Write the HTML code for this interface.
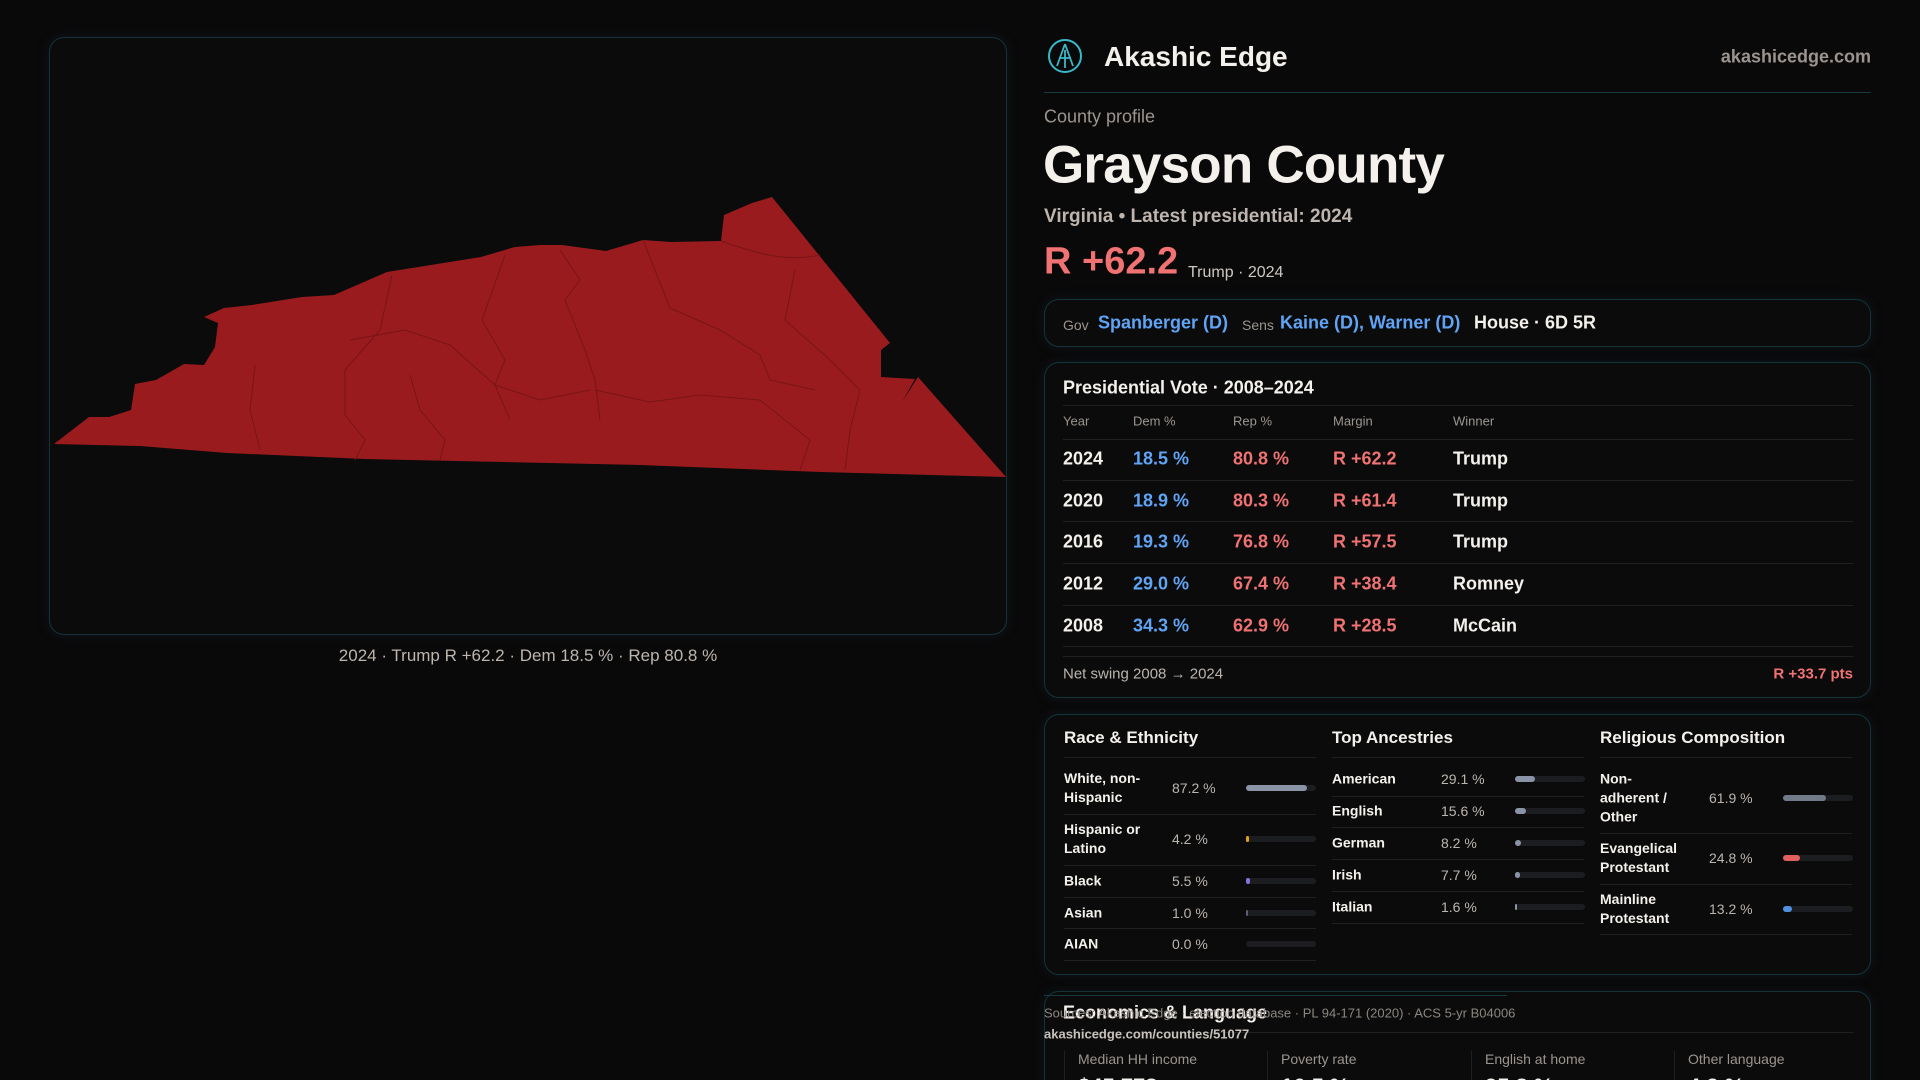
<!DOCTYPE html>
<html><head><meta charset="utf-8">
<style>
*{margin:0;padding:0;box-sizing:border-box}
html{width:1920px;height:1080px;overflow:hidden}
body{width:1920px;height:1080px;background:#0a090a;overflow:hidden;font-family:"Liberation Sans",sans-serif;color:#f4f1ec;position:relative}
.abs{position:absolute;white-space:nowrap}
.card{position:absolute;border:1px solid #14343a;border-radius:15px;background:#0b0b0c;box-shadow:0 0 12px rgba(20,60,70,0.25)}
.sep{position:absolute;height:1px;background:#1e2123}
.gray{color:#9c958f}
.blue{color:#5fa4f5}
.red{color:#f07272}
.vc{transform:translateY(-50%)}
.bar-bg{position:absolute;height:6px;border-radius:3px;background:#1c1d20}
.bar-fill{position:absolute;left:0;top:0;height:6px;border-radius:3px}
#clip{position:absolute;left:0;top:0;width:1920px;height:1080px;overflow:hidden}
</style></head>
<body>
<div id="clip">
<!-- Map panel -->
<div class="card" style="left:49px;top:37px;width:958px;height:598px;background:#0b0b0c"></div>
<svg class="abs" style="left:0;top:0" width="1020" height="640">
<polygon fill="#9a1b1e" points="54,444 89,417 109,417 131,410 135,384 156,380 184,364 204,365 215,347 218,323 204,317 224,308 252,305 302,297 334,295 387,272 481,257 515,247 540,245 562,245 606,251 643,240 671,242 721,241 724,215 752,203 772,197 890,343 881,350 881,377 915,379 902,402 918,377 1006,477 821,472 640,465 365,459 227,453 140,446"/>
<ellipse cx="893" cy="362" rx="8" ry="13" fill="#0b0b0c"/>
<g fill="none" stroke="#7a1416" stroke-width="1">
<path d="M721,241 C760,255 790,262 820,255"/>
<path d="M643,240 L670,308 L720,330 L760,355 L770,380 L815,390"/>
<path d="M505,255 L482,320 L505,360 L495,385 L510,420"/>
<path d="M560,250 L580,280 L565,300 L585,350 L595,380 L600,420"/>
<path d="M392,275 L380,330 L345,370 L345,415 L365,440 L355,460"/>
<path d="M255,365 L250,410 L260,450"/>
<path d="M350,340 L405,330 L450,345 L495,385 L540,400 L590,390"/>
<path d="M595,390 L650,402 L700,395 L760,400 L810,440 L800,470"/>
<path d="M410,375 L420,410 L445,440 L440,460"/>
<path d="M795,270 L785,320 L830,360 L860,390 L850,430 L845,470"/>
</g>
</svg>
<div class="abs gray" style="left:528px;top:656px;transform:translate(-50%,-50%);font-size:17px;color:#bcb5ae">2024 · Trump R +62.2 · Dem 18.5 % · Rep 80.8 %</div>

<!-- Header -->
<svg class="abs" style="left:1047px;top:38px" width="36" height="36" viewBox="0 0 36 36">
<circle cx="18" cy="18" r="16" fill="none" stroke="#3ab8c8" stroke-width="2"/>
<path d="M18,6 L10,28 M18,6 L26,28 M12,20 L24,20 M18,12 L18,30" stroke="#3ab8c8" stroke-width="1.8" fill="none"/>
</svg>
<div class="abs vc" style="left:1104px;top:57px;font-size:28px;font-weight:bold;color:#f4f1ec">Akashic Edge</div>
<div class="abs vc gray" style="right:49px;top:57px;font-size:18px;font-weight:bold">akashicedge.com</div>
<div class="sep" style="left:1044px;top:92px;width:827px;background:#163a40"></div>
<div class="abs vc gray" style="left:1044px;top:117px;font-size:18px">County profile</div>
<div class="abs vc" style="left:1043px;top:165px;font-size:53px;font-weight:bold;letter-spacing:-0.8px">Grayson County</div>
<div class="abs vc" style="left:1044px;top:217px;font-size:19px;font-weight:bold;color:#bdb5ae">Virginia • Latest presidential: 2024</div>
<div class="abs vc red" style="left:1044px;top:262px;font-size:38px;font-weight:bold">R +62.2</div>
<div class="abs gray" style="left:1188px;top:264px;font-size:16px;color:#cfc8c2">Trump · 2024</div>

<!-- Officials -->
<div class="card" style="left:1044px;top:299px;width:827px;height:48px"></div>
<div class="abs vc gray" style="left:1063px;top:325px;font-size:14px">Gov</div>
<div class="abs vc blue" style="left:1098px;top:323px;font-size:18px;font-weight:bold">Spanberger (D)</div>
<div class="abs vc gray" style="left:1242px;top:325px;font-size:14px">Sens</div>
<div class="abs vc blue" style="left:1280px;top:323px;font-size:18px;font-weight:bold">Kaine (D), Warner (D)</div>
<div class="abs vc" style="left:1474px;top:323px;font-size:18px;font-weight:bold">House · 6D 5R</div>

<!-- Presidential table -->
<div class="card" style="left:1044px;top:362px;width:827px;height:336px"></div>
<div class="abs vc" style="left:1063px;top:388px;font-size:18px;font-weight:bold">Presidential Vote · 2008–2024</div>
<div class="sep" style="left:1063px;top:405px;width:790px"></div>
<div id="ptable"></div>
<div class="sep" style="left:1063px;top:656px;width:790px"></div>
<div class="abs vc gray" style="left:1063px;top:674px;font-size:15px;color:#bcb5ae">Net swing 2008 → 2024</div>
<div class="abs vc red" style="right:67px;top:674px;font-size:15px;font-weight:bold">R +33.7 pts</div>

<!-- Demographics -->
<div class="card" style="left:1044px;top:714px;width:827px;height:261px"></div>
<div id="demo"></div>

<!-- Economics -->
<div class="card" style="left:1044px;top:991px;width:827px;height:120px"></div>
<div class="abs vc" style="left:1063px;top:1013px;font-size:18px;font-weight:bold">Economics &amp; Language</div>
<div class="sep" style="left:1063px;top:1032px;width:790px"></div>
<div class="sep" style="left:1044px;top:995px;width:463px;background:#163a40"></div>
<div class="abs vc gray" style="left:1044px;top:1013px;font-size:13px;color:#8c8680">Sources: Akashic Edge · election database · PL 94-171 (2020) · ACS 5-yr B04006</div>
<div class="abs vc" style="left:1044px;top:1034px;font-size:13px;font-weight:bold;color:#c8c2bc">akashicedge.com/counties/51077</div>
<div id="econ"></div>
</div>

<script>
// Presidential vote data
const years = [2024, 2020, 2016, 2012, 2008];
const demPct = [18.5, 18.9, 19.3, 29.0, 34.3];
const repPct = [80.8, 80.3, 76.8, 67.4, 62.9];
const margins = ["R +62.2", "R +61.4", "R +57.5", "R +38.4", "R +28.5"];
const winners = ["Trump", "Trump", "Trump", "Romney", "McCain"];
const headers = ["Year", "Dem %", "Rep %", "Margin", "Winner"];

// Demographics data
const raceLabels = ["White, non-<br>Hispanic", "Hispanic or<br>Latino", "Black", "Asian", "AIAN"];
const raceValues = [87.2, 4.2, 5.5, 1.0, 0.0];
const ancestryLabels = ["American", "English", "German", "Irish", "Italian"];
const ancestryValues = [29.1, 15.6, 8.2, 7.7, 1.6];
const religionLabels = ["Non-<br>adherent /<br>Other", "Evangelical<br>Protestant", "Mainline<br>Protestant"];
const religionValues = [61.9, 24.8, 13.2];

// Economics
const econLabels = ["Median HH income", "Poverty rate", "English at home", "Other language"];
const econValues = ["$45,778", "16.5 %", "95.8 %", "4.2 %"];

const root = document.getElementById('clip');
function mk(parent, cls, style, html) {
  const d = document.createElement('div');
  d.className = cls; d.style.cssText = style; if (html !== undefined) d.innerHTML = html;
  parent.appendChild(d); return d;
}

// table
const pt = document.getElementById('ptable');
const colX = [1063, 1133, 1233, 1333, 1453];
const rowY0 = 459, rowH = 41.7;
headers.forEach((h, i) => {
  const el = mk(pt, 'abs vc gray', `left:${colX[i]}px;top:421px;font-size:13px`, h);
  
  
});
mk(pt, 'sep', 'left:1063px;top:439px;width:790px');
years.forEach((y, r) => {
  const cy = rowY0 + r * rowH;
  const cells = [
    [String(y), ''], [demPct[r].toFixed(1) + ' %', 'blue'], [repPct[r].toFixed(1) + ' %', 'red'],
    [margins[r], 'red'], [winners[r], '']
  ];
  cells.forEach((c, i) => {
    const el = mk(pt, 'abs vc ' + c[1], `left:${colX[i]}px;top:${cy}px;font-size:18px;font-weight:bold`, c[0]);
    
    
  });
  const s = mk(pt, 'sep', `left:1063px;top:${Math.round(cy + 20.5)}px;width:790px`);
  
  
});

// demographics
const demo = document.getElementById('demo');
function section(x, title, labels, values, colors, rowCenters, seps, valX, barX) {
  const t = mk(demo, 'abs vc', `left:${x}px;top:738px;font-size:17px;font-weight:bold`, title);
  
  
  mk(demo, 'sep', `left:${x}px;top:757px;width:252px`);
  labels.forEach((l, i) => {
    const cy = rowCenters[i];
    const le = mk(demo, 'abs vc', `left:${x}px;top:${cy}px;font-size:14px;font-weight:bold;line-height:19px;white-space:normal`, l);
    
    
    const ve = mk(demo, 'abs vc gray', `left:${valX}px;top:${cy}px;font-size:14px;color:#bcb5ae`, values[i].toFixed(1) + ' %');
    
    
    const bg = mk(demo, 'bar-bg', `left:${barX}px;top:${cy - 3}px;width:70px`);
    
    
    const f = mk(bg, 'bar-fill', `width:${Math.max(values[i] / 100 * 70, values[i] > 0 ? 2 : 0)}px;background:${colors[i]}`);
    
    
    const s = mk(demo, 'sep', `left:${x}px;top:${seps[i]}px;width:252px`);
    
    
  });
}
section(1064, 'Race &amp; Ethnicity', raceLabels, raceValues,
  ['#8b94a6', '#e0a020', '#8a70e0', '#5a6070', '#5a6070'],
  [788, 839, 881, 913, 944], [814, 865, 897, 928, 960], 1172, 1246);
section(1332, 'Top Ancestries', ancestryLabels, ancestryValues,
  ['#8b94a6', '#8b94a6', '#8b94a6', '#8b94a6', '#8b94a6'],
  [779, 811, 843, 875, 907], [796, 827, 859, 891, 923], 1441, 1515);
section(1600, 'Religious Composition', religionLabels, religionValues,
  ['#707a88', '#e06060', '#5090e0'],
  [798, 858, 909], [833, 884, 934], 1709, 1783);

// economics
const econ = document.getElementById('econ');
const ex = [1064, 1267, 1471, 1674];
econLabels.forEach((l, i) => {
  const v = mk(econ, 'abs', `left:${ex[i]}px;top:1051px;width:1px;height:29px;background:#1e2123`);
  
  
  const le = mk(econ, 'abs vc gray', `left:${ex[i] + 14}px;top:1059px;font-size:14px`, l);
  
  
  const ve = mk(econ, 'abs', `left:${ex[i] + 14}px;top:1074px;font-size:22px;font-weight:bold`, econValues[i]);
  
  
});
</script>
</body></html>
